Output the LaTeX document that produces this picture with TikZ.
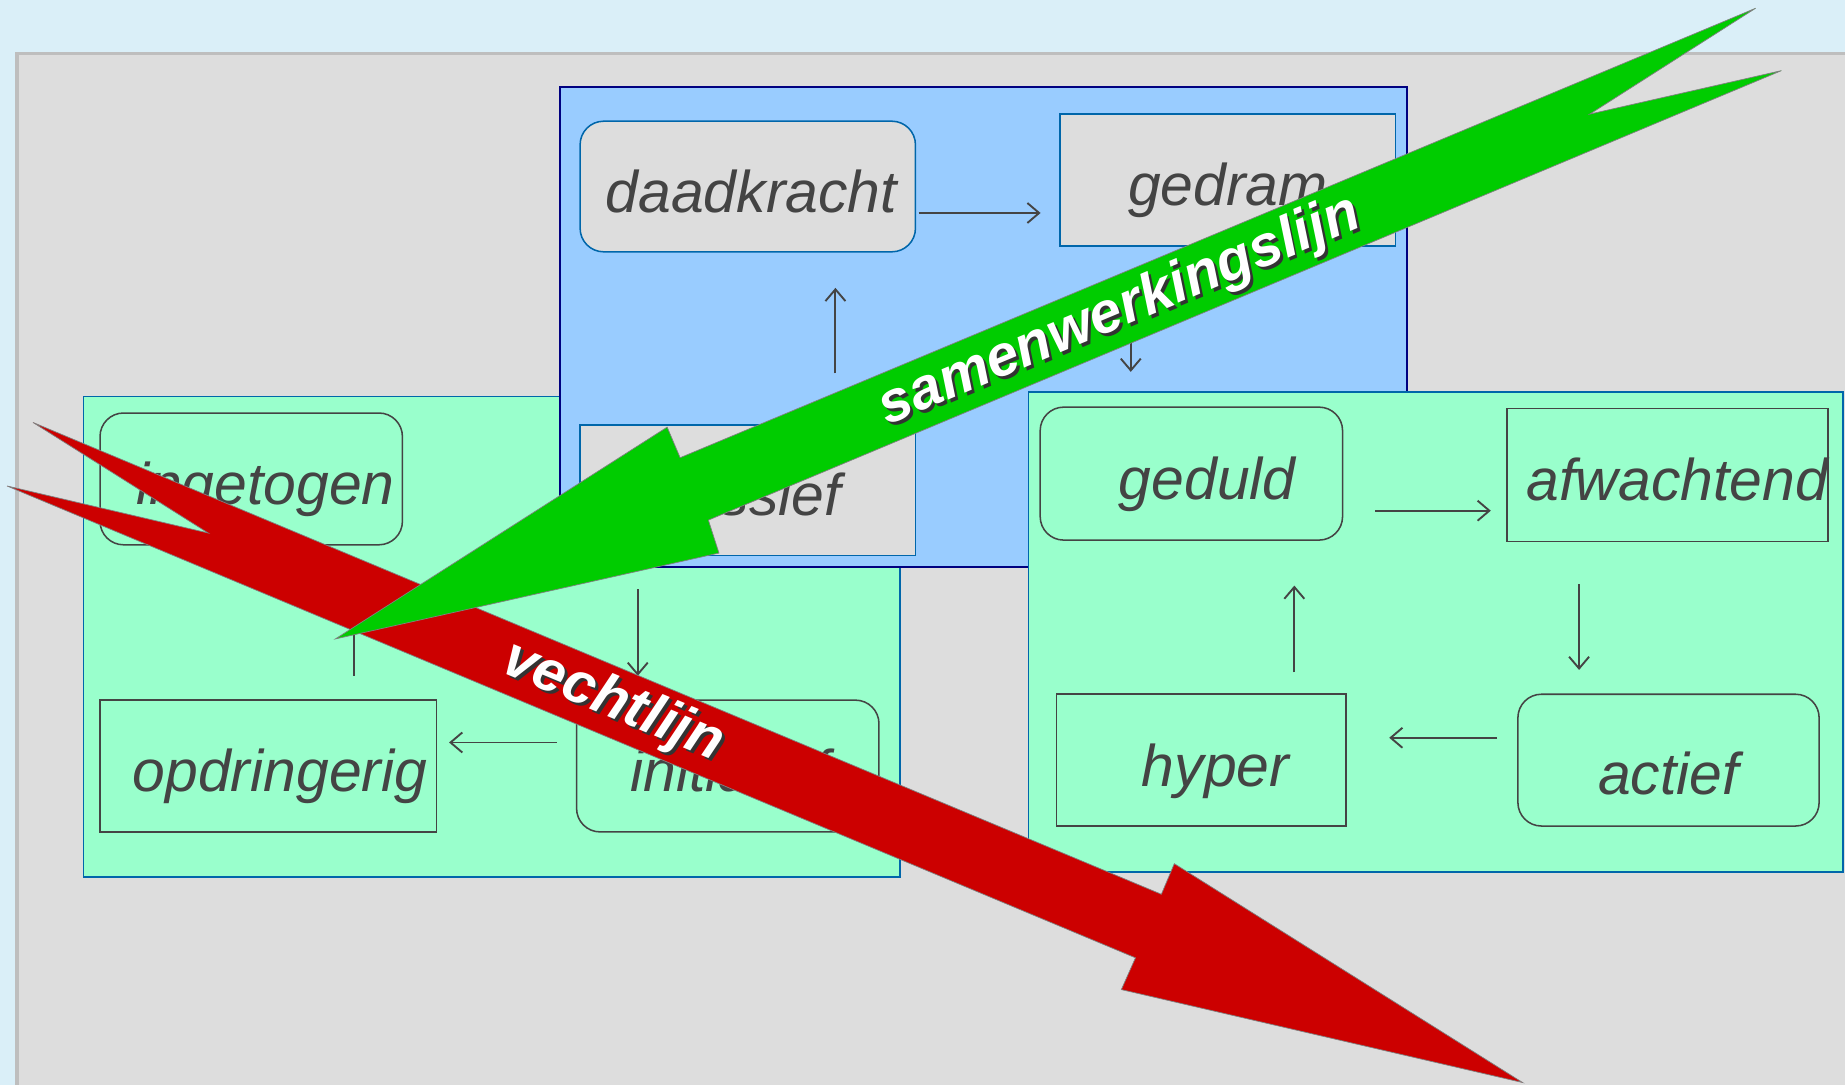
\documentclass[tikz,border=0pt]{standalone}
\usepackage{fontspec}
\setmainfont{Liberation Sans}
\usetikzlibrary{arrows.meta,calc}

\definecolor{skyback}{RGB}{218,239,248}
\definecolor{panelgray}{RGB}{221,221,221}
\definecolor{paneledge}{RGB}{190,190,190}
\definecolor{bluegroup}{RGB}{153,204,255}
\definecolor{navyedge}{RGB}{0,0,128}
\definecolor{mintgroup}{RGB}{153,255,204}
\definecolor{mintedge}{RGB}{0,102,170}
\definecolor{textgray}{RGB}{68,68,68}
\definecolor{coopgreen}{RGB}{0,204,0}
\definecolor{fightred}{RGB}{204,0,0}

\newcommand{\nudge}[1]{\hspace*{#1pt}}

\begin{document}
\begin{tikzpicture}[x=1pt,y=1pt,yscale=-1,
    word/.style={font=\fontsize{50}{60}\selectfont\itshape, text=textgray, inner sep=0pt, text height=44pt, text depth=0pt, minimum height=112pt},
    graybox/.style={word, draw=mintedge, fill=panelgray, line width=1.3pt},
    mintbox/.style={word, draw=textgray, line width=1.3pt},
    roundish/.style={rounded corners=20pt},
    flow/.style={draw=textgray, line width=1.6pt, -{Straight Barb[length=10pt,width=17pt,line width=1.6pt]}},
    bandtext/.style={font=\fontsize{49}{55}\selectfont\bfseries\itshape, text=white, inner sep=0pt},
    bandshadow/.style={bandtext, text=black!80}
  ]
  \useasboundingbox (0,0) rectangle (1568,922);

  %Shape: Background
  \fill [skyback] (0,0) rectangle (1568,922);
  \fill [panelgray] (13,44) rectangle (1568,922);
  \draw [paneledge, line width=3pt] (14.5,922) -- (14.5,45.5) -- (1568,45.5);

  %Shape: Rectangle (left group)
  \draw [fill=mintgroup, draw=mintedge, line width=1.5pt] (71,337) rectangle (765,745);
  % Text Node
  \node [mintbox, roundish, minimum width=257pt] (inget) at (213.5,407) {\nudge{24}ingetogen};
  % Text Node
  \node [mintbox, roundish, minimum width=257pt] (initia) at (618.5,651) {\nudge{4}initiatief};
  % Text Node
  \node [mintbox, minimum width=286pt] (opdr) at (228,651) {\nudge{20}opdringerig};

  %Shape: Rectangle (top group)
  \draw [fill=bluegroup, draw=navyedge, line width=2pt] (476,74) rectangle (1196,482);
  % Text Node
  \node [graybox, roundish, minimum width=285pt, minimum height=111pt] (daad) at (635.5,158.5) {\nudge{6}daadkracht};
  % Text Node
  \node [graybox, minimum width=285pt] (gedram) at (1043.5,153) {gedram};
  % Text Node
  \node [graybox, minimum width=285pt, minimum height=111pt] (passief) at (635.5,416.5) {passief};
  \coordinate (hiddenbox) at (961,316);

  %Straight Lines
  \draw [flow] ($(daad.east)+(2,22.5)$) -- ($(gedram.west)+(-16,28)$);
  \draw [flow] ($(gedram.south)+(-82.5,36)$) -- (hiddenbox);
  \draw [flow] ($(passief.north)+(74.5,-43)$) -- ($(daad.south)+(74.5,30)$);
  \draw [flow] ($(passief.south)+(-93.5,28)$) -- ($(initia.north)+(-76.5,-20)$);
  \draw [flow] ($(initia.west)+(-16,-20)$) -- ($(opdr.east)+(10,-20)$);
  \draw [flow] ($(opdr.north)+(73,-20)$) -- ($(inget.south)+(87.5,27)$);

  %Shape: Rectangle (right group)
  \draw [fill=mintgroup, draw=mintedge, line width=1.5pt] (874,333) rectangle (1566,741);
  % Text Node
  \node [mintbox, roundish, minimum width=257pt, minimum height=113pt] (geduld) at (1012.5,402.5) {\nudge{27}geduld};
  % Text Node
  \node [mintbox, minimum width=272pt, minimum height=113pt] (afw) at (1417,403.5) {\nudge{17}afwachtend};
  % Text Node
  \node [mintbox, roundish, minimum width=256pt] (actief) at (1418,646) {\raisebox{-7pt}{actief}};
  % Text Node
  \node [mintbox, minimum width=246pt] (hyper) at (1021,646) {\nudge{24}hyper};

  %Straight Lines
  \draw [flow] ($(geduld.east)+(27,31.5)$) -- ($(afw.west)+(-13,30.5)$);
  \draw [flow] ($(afw.south)+(-75,36)$) -- ($(actief.north)+(-76,-20)$);
  \draw [flow] ($(actief.west)+(-17,-19)$) -- ($(hyper.east)+(36,-19)$);
  \draw [flow] ($(hyper.north)+(79,-18)$) -- ($(geduld.south)+(87.5,38)$);

  %Shape: Arrow (red)
  \filldraw [fill=fightred, draw=gray, line width=0.6pt] (1294,920) -- (953,841) -- (965,814) -- (6,413) -- (177,453) -- (28,359) -- (987,760) -- (998,734) -- cycle;
  %Shape: Arrow (green)
  \filldraw [fill=coopgreen, draw=gray, line width=0.6pt] (285,543) -- (611,470) -- (602,442) -- (1514,60) -- (1351,97) -- (1492,7) -- (578,389) -- (567,363) -- cycle;

  % Text Node
  \node [bandshadow, rotate=22.7] (coopshadow) at (954.5,267.5) {samenwerkingslijn};
  \node [bandtext, rotate=22.7] (coop) at (952,265) {samenwerkingslijn};
  % Text Node
  \node [bandshadow, rotate=-22.7] (fightshadow) at (523.5,599.5) {vechtlijn};
  \node [bandtext, rotate=-22.7] (fight) at (521,597) {vechtlijn};
\end{tikzpicture}
\end{document}
